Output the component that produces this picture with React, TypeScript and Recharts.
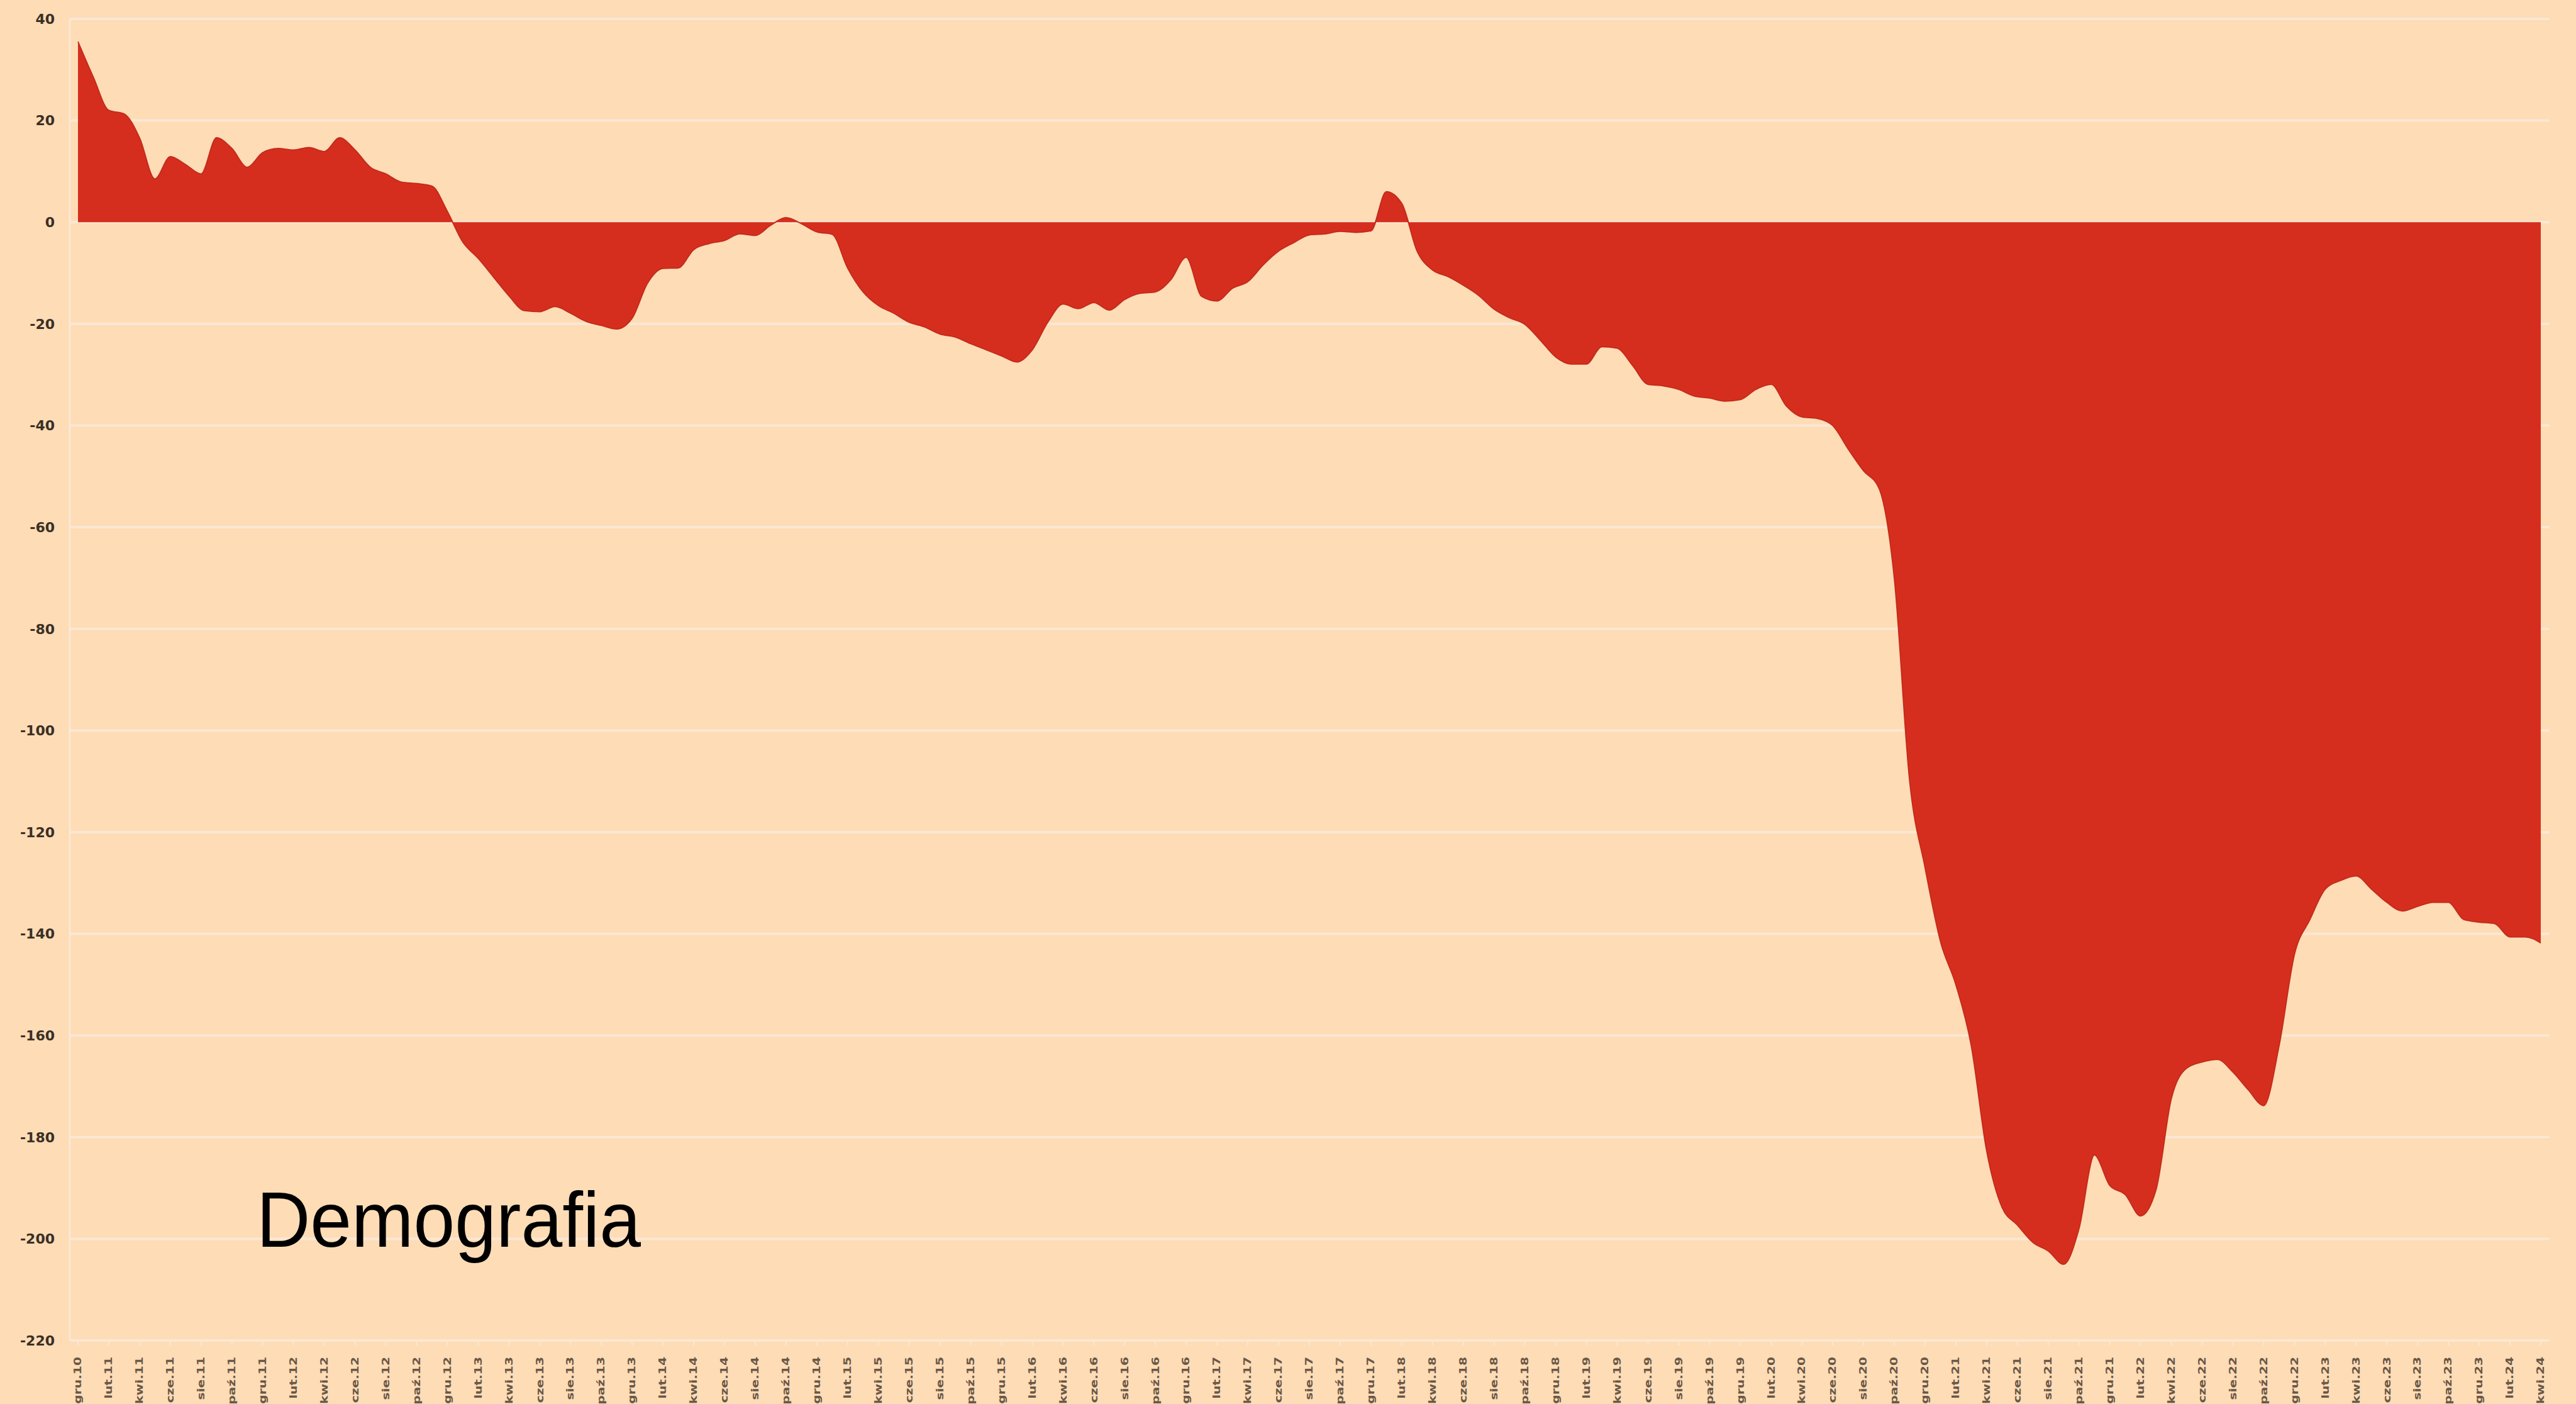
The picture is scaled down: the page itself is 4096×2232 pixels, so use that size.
import React from 'react';
import { AreaChart, Area, XAxis, YAxis, CartesianGrid } from 'recharts';

// Polish month abbreviations, series starts at "gru.10" (December 2010), monthly.
const MONTH_ABBR = ['sty', 'lut', 'mar', 'kwi', 'maj', 'cze', 'lip', 'sie', 'wrz', 'paź', 'lis', 'gru'];
const START_YEAR = 10;
const START_MONTH_INDEX = 11;

const VALUES = [
  35.5, 28.5, 22, 21.3, 16.6, 8.5, 12.9, 11.3, 9.5, 16.6,
  14.5, 10.8, 13.7, 14.5, 14.2, 14.7, 13.9, 16.6, 14.2, 10.8,
  9.5, 7.9, 7.6, 7.1, 2.1, -3.9, -7.1, -10.8, -14.5, -17.4,
  -17.6, -16.6, -17.9, -19.5, -20.3, -21, -18.9, -12, -9.1, -9,
  -5.4, -4.2, -3.6, -2.3, -2.6, -0.6, 0.9, -0.3, -1.9, -2.4,
  -9, -13.7, -16.4, -17.9, -19.7, -20.6, -22, -22.6, -23.9, -25.1,
  -26.3, -27.5, -25.1, -19.7, -16.1, -17, -15.8, -17.3, -15.2, -14,
  -13.7, -11.3, -6.9, -14.6, -15.5, -13, -11.7, -8.4, -5.7, -4.0,
  -2.5, -2.3, -1.8, -2.0, -1.7, 6.0, 3.7, -5.7, -9.4, -10.7,
  -12.4, -14.4, -17.1, -18.8, -20.1, -23.2, -26.5, -27.9, -27.9, -24.5,
  -24.8, -28.2, -31.9, -32.2, -32.9, -34.2, -34.6, -35.2, -34.9, -32.9,
  -31.9, -36.2, -38.3, -38.6, -40, -44.6, -48.9, -52.3, -70, -110,
  -127, -141.5, -150, -162, -182.7, -193.8, -197.3, -200.7, -202.4, -205,
  -198, -183.5, -189.5, -191.3, -195.5, -190.4, -172.4, -166.4, -165.2, -164.7,
  -167.2, -170.7, -173.8, -162, -144, -137.2, -131.2, -129.5, -128.6, -131.2,
  -133.8, -135.5, -134.6, -133.8, -133.8, -137.2, -137.7, -138, -140.6, -140.6,
  -141.8,
];

const Y_TICKS = [40, 20, 0, -20, -40, -60, -80, -100, -120, -140, -160, -180, -200, -220];
const TITLE = 'Demografia';

const data = VALUES.map((v, i) => {
  const m = START_MONTH_INDEX + i;
  const label = `${MONTH_ABBR[m % 12]}.${START_YEAR + Math.floor(m / 12)}`;
  return { month: label, value: v };
});

const BG = '#FDDCB6';
const GRID = '#FBE7D3';
const RED = '#D62E1E';

const XTick = (props: any) => {
  const { x, y, payload } = props;
  return (
    <g transform={`translate(${x},${y}) rotate(-90) scale(1.35,1)`}>
      <text
        x={0}
        y={0}
        dy="0.35em"
        textAnchor="end"
        fontSize={15}
        fontFamily="DejaVu Sans"
        fontWeight="bold"
        fill="#6a5846"
      >
        {payload.value}
      </text>
    </g>
  );
};

export default function App() {
  return (
    <div style={{ position: 'absolute', left: 0, top: 0, width: 4096, height: 2232, background: BG, overflow: 'hidden' }}>
      <AreaChart
        width={4096}
        height={2232}
        data={data}
        margin={{ top: 30, right: 42, bottom: 0, left: 0 }}
      >
        <CartesianGrid horizontal vertical={false} stroke={GRID} strokeWidth={4} />
        <XAxis
          dataKey="month"
          interval={1}
          height={101}
          padding={{ left: 13, right: 14 }}
          tick={<XTick />}
          tickSize={8}
          tickMargin={18}
          tickLine={{ stroke: GRID, strokeWidth: 2 }}
          axisLine={{ stroke: GRID, strokeWidth: 4 }}
        />
        <YAxis
          type="number"
          domain={[-220, 40]}
          ticks={Y_TICKS}
          interval={0}
          width={111}
          tickSize={0}
          tickMargin={24}
          tickLine={false}
          axisLine={{ stroke: GRID, strokeWidth: 3 }}
          tick={{ fontSize: 22, fontFamily: 'DejaVu Sans', fontWeight: 'bold', fill: '#3a3026' }}
        />
        <Area
          type="monotone"
          dataKey="value"
          baseValue={0}
          fill={RED}
          fillOpacity={1}
          stroke="#C42B1B"
          strokeWidth={2}
          dot={false}
          activeDot={false}
          isAnimationActive={false}
        />
      </AreaChart>
      <svg
        width={4096}
        height={2232}
        style={{ position: 'absolute', left: 0, top: 0, pointerEvents: 'none' }}
      >
        <text
          x={408}
          y={1982}
          fontSize={125}
          fontFamily="Liberation Sans"
          fill="#000000"
          textLength={611}
          lengthAdjust="spacingAndGlyphs"
        >
          {TITLE}
        </text>
      </svg>
    </div>
  );
}
